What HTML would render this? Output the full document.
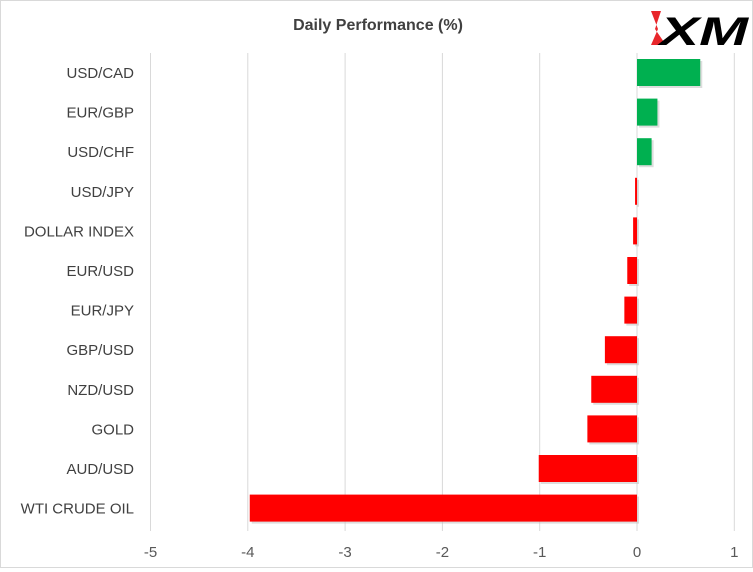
<!DOCTYPE html>
<html><head><meta charset="utf-8"><style>
body{margin:0;background:#fff}
#wrap{position:relative;width:751px;height:566px;border:1px solid #d9d9d9;font-family:"Liberation Sans",sans-serif}
</style></head><body>
<div id="wrap">
<svg id="chart" width="751" height="566">
<text x="377" y="29" text-anchor="middle" font-size="16" font-weight="bold" fill="#404040">Daily Performance  (%)</text>
<g>
<polygon points="650,10 660,10 654,28 665,44 650,44 657,28" fill="#e8262b"/>
<text x="659" y="44" font-size="40" font-weight="bold" font-style="italic" fill="#000" textLength="88" lengthAdjust="spacingAndGlyphs">XM</text>
</g>
<g id="grid"></g><g id="bars"></g><g id="labels"></g><g id="ticks"></g>
</svg></div>
<script>
const categories=["USD/CAD","EUR/GBP","USD/CHF","USD/JPY","DOLLAR INDEX","EUR/USD","EUR/JPY","GBP/USD","NZD/USD","GOLD","AUD/USD","WTI CRUDE OIL"];
const values=[0.65,0.21,0.15,-0.02,-0.04,-0.1,-0.13,-0.33,-0.47,-0.51,-1.01,-3.98];
const tickLabels=["-5","-4","-3","-2","-1","0","1"];
const tickValues=[-5,-4,-3,-2,-1,0,1];
const NS="http://www.w3.org/2000/svg";
const x=v=>636+(v)*97.3;
const y=i=>72+i*39.6;
function mk(t,a,p){const e=document.createElementNS(NS,t);for(const k in a)e.setAttribute(k,a[k]);p.appendChild(e);return e;}
const grid=document.getElementById('grid'),bars=document.getElementById('bars'),labels=document.getElementById('labels'),ticks=document.getElementById('ticks');
tickValues.forEach((v,i)=>{
 const l=mk('line',{x1:x(v),x2:x(v),y1:52,y2:530,stroke:'#d9d9d9','stroke-width':1},grid);
 
 
 const t=mk('text',{x:x(v),y:556,'text-anchor':'middle','font-size':15,fill:'#595959'},ticks);
 t.textContent=tickLabels[i];
 
 
});
categories.forEach((c,i)=>{
 const v=values[i];const x0=Math.min(x(0),x(v)),w=Math.abs(x(v)-x(0));
 const s=mk('rect',{x:x0+2,y:y(i)-12,width:w,height:27,fill:'#bbb',opacity:0.5},bars);
 
 
 const r=mk('rect',{x:x0,y:y(i)-14,width:w,height:27,fill:v>=0?'#00b050':'#ff0000'},bars);
 
 
 const t=mk('text',{x:133,y:y(i)+5,'text-anchor':'end','font-size':15,fill:'#404040'},labels);
 t.textContent=c;
 
 
});
</script>
</body></html>
